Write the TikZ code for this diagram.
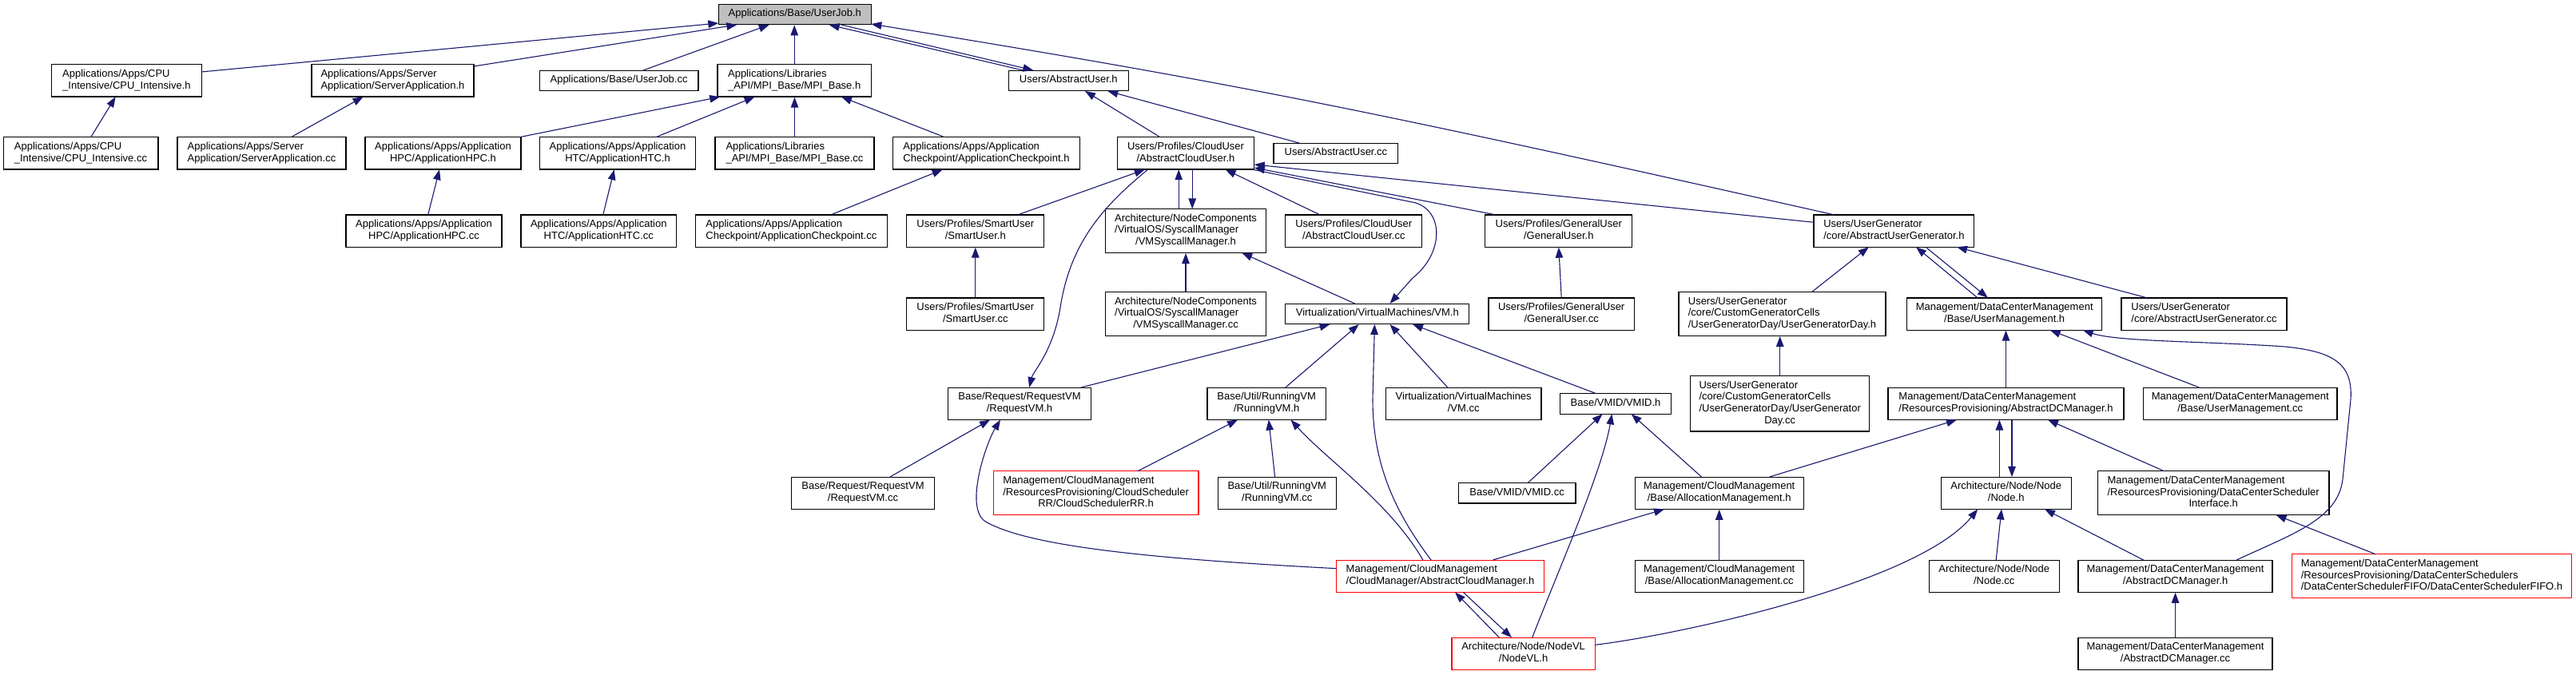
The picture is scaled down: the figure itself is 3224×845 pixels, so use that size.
\documentclass[tikz,border=0pt]{standalone}
\usepackage{fontspec}
\setmainfont{Liberation Sans}
\usetikzlibrary{arrows.meta,calc}
\definecolor{edgec}{RGB}{25,25,112}
\definecolor{rootgray}{RGB}{191,191,191}
\newcommand{\lb}[1]{\begin{tabular}{@{}l@{}}#1\end{tabular}}
\newcommand{\cl}[1]{\multicolumn{1}{@{}c@{}}{#1}}
\tikzset{
 nb/.style={draw=black, line width=1.2pt, fill=white, inner xsep=2pt, inner ysep=5.5pt, font=\fontsize{13}{14.6}\selectfont},
 redb/.style={nb, draw=red},
 dep/.style={draw=edgec, line width=1.1pt, -{Triangle[length=13pt,width=9.5pt]}},
}
\begin{document}
\begin{tikzpicture}[x=1pt,y=-1pt]
\fill[white] (0,0) rectangle (3224,845);
\path[use as bounding box] (0,0) rectangle (3224,845);
% rank 0
\node[nb, fill=rootgray, minimum width=191pt] (userjobh) at (994.8,18) {\lb{Applications/Base/UserJob.h}};
% rank 1
\node[nb, minimum width=187.5pt] (cpuh) at (158.4,101) {\lb{Applications/Apps/CPU\\\cl{\_Intensive/CPU\_Intensive.h}}};
\node[nb, minimum width=203pt] (serverh) at (491.5,101) {\lb{Applications/Apps/Server\\\cl{Application/ServerApplication.h}}};
\node[nb, minimum width=198.7pt] (userjobcc) at (774.6,101) {\lb{Applications/Base/UserJob.cc}};
\node[nb, minimum width=192.3pt] (mpih) at (994.2,101) {\lb{Applications/Libraries\\\cl{\_API/MPI\_Base/MPI\_Base.h}}};
\node[nb, minimum width=149.8pt] (abstractuserh) at (1337.3,101) {\lb{Users/AbstractUser.h}};
% rank 2
\node[nb, minimum width=193.8pt] (cpucc) at (101,192) {\lb{Applications/Apps/CPU\\\cl{\_Intensive/CPU\_Intensive.cc}}};
\node[nb, minimum width=211pt] (servercc) at (327.5,192) {\lb{Applications/Apps/Server\\\cl{Application/ServerApplication.cc}}};
\node[nb, minimum width=195pt] (hpch) at (554.5,192) {\lb{Applications/Apps/Application\\\cl{HPC/ApplicationHPC.h}}};
\node[nb, minimum width=194.6pt] (htch) at (773,192) {\lb{Applications/Apps/Application\\\cl{HTC/ApplicationHTC.h}}};
\node[nb, minimum width=199pt] (mpicc) at (994.5,192) {\lb{Applications/Libraries\\\cl{\_API/MPI\_Base/MPI\_Base.cc}}};
\node[nb, minimum width=233.5pt] (checkh) at (1234.5,192) {\lb{Applications/Apps/Application\\\cl{Checkpoint/ApplicationCheckpoint.h}}};
\node[nb, minimum width=171.5pt] (acuh) at (1484,192) {\lb{Users/Profiles/CloudUser\\\cl{/AbstractCloudUser.h}}};
\node[nb, minimum width=155.8pt] (abstractusercc) at (1671.9,192) {\lb{Users/AbstractUser.cc}};
% rank 3
\node[nb, minimum width=195pt] (hpccc) at (530.5,289) {\lb{Applications/Apps/Application\\\cl{HPC/ApplicationHPC.cc}}};
\node[nb, minimum width=194.5pt] (htccc) at (749.3,289) {\lb{Applications/Apps/Application\\\cl{HTC/ApplicationHTC.cc}}};
\node[nb, minimum width=240.2pt] (checkcc) at (990.4,289) {\lb{Applications/Apps/Application\\\cl{Checkpoint/ApplicationCheckpoint.cc}}};
\node[nb, minimum width=172pt] (smarth) at (1220.8,289) {\lb{Users/Profiles/SmartUser\\\cl{/SmartUser.h}}};
\node[nb, minimum width=201.4pt] (vmsysh) at (1484,289) {\lb{Architecture/NodeComponents\\/VirtualOS/SyscallManager\\\cl{/VMSyscallManager.h}}};
\node[nb, minimum width=171pt] (acucc) at (1694.3,289) {\lb{Users/Profiles/CloudUser\\\cl{/AbstractCloudUser.cc}}};
\node[nb, minimum width=184pt] (generalh) at (1950.8,289) {\lb{Users/Profiles/GeneralUser\\\cl{/GeneralUser.h}}};
\node[nb, minimum width=200.7pt] (augh) at (2370.4,289) {\lb{Users/UserGenerator\\\cl{/core/AbstractUserGenerator.h}}};
% rank 4
\node[nb, minimum width=172pt] (smartcc) at (1220.8,393) {\lb{Users/Profiles/SmartUser\\\cl{/SmartUser.cc}}};
\node[nb, minimum width=201.4pt] (vmsyscc) at (1484,393) {\lb{Architecture/NodeComponents\\/VirtualOS/SyscallManager\\\cl{/VMSyscallManager.cc}}};
\node[nb, minimum width=229.9pt] (vmh) at (1723.8,393) {\lb{Virtualization/VirtualMachines/VM.h}};
\node[nb, minimum width=182.3pt] (generalcc) at (1954.2,393) {\lb{Users/Profiles/GeneralUser\\\cl{/GeneralUser.cc}}};
\node[nb, minimum width=259pt] (ugdayh) at (2230.5,393) {\lb{Users/UserGenerator\\/core/CustomGeneratorCells\\\cl{/UserGeneratorDay/UserGeneratorDay.h}}};
\node[nb, minimum width=243.8pt] (umh) at (2508.7,393) {\lb{Management/DataCenterManagement\\\cl{/Base/UserManagement.h}}};
\node[nb, minimum width=207pt] (augcc) at (2758.5,393) {\lb{Users/UserGenerator\\\cl{/core/AbstractUserGenerator.cc}}};
% rank 5
\node[nb, minimum width=179.3pt] (reqvmh) at (1276,505.3) {\lb{Base/Request/RequestVM\\\cl{/RequestVM.h}}};
\node[nb, minimum width=148.5pt] (runvmh) at (1585.2,505.3) {\lb{Base/Util/RunningVM\\\cl{/RunningVM.h}}};
\node[nb, minimum width=194.7pt] (vmcc) at (1831.7,505.3) {\lb{Virtualization/VirtualMachines\\\cl{/VM.cc}}};
\node[nb, minimum width=138.5pt] (vmidh) at (2022,505.3) {\lb{Base/VMID/VMID.h}};
\node[nb, minimum width=224.2pt] (ugdaycc) at (2227.7,505.3) {\lb{Users/UserGenerator\\/core/CustomGeneratorCells\\/UserGeneratorDay/UserGenerator\\\cl{Day.cc}}};
\node[nb, minimum width=295pt] (adcmrph) at (2510.5,505.3) {\lb{Management/DataCenterManagement\\\cl{/ResourcesProvisioning/AbstractDCManager.h}}};
\node[nb, minimum width=242.4pt] (umcc) at (2803.7,505.3) {\lb{Management/DataCenterManagement\\\cl{/Base/UserManagement.cc}}};
% rank 6
\node[nb, minimum width=178.8pt] (reqvmcc) at (1080,617.2) {\lb{Base/Request/RequestVM\\\cl{/RequestVM.cc}}};
\node[redb, minimum width=256.8pt] (cloudrr) at (1371.6,617.2) {\lb{Management/CloudManagement\\/ResourcesProvisioning/CloudScheduler\\\cl{RR/CloudSchedulerRR.h}}};
\node[nb, minimum width=148pt] (runvmcc) at (1598.3,617.2) {\lb{Base/Util/RunningVM\\\cl{/RunningVM.cc}}};
\node[nb, minimum width=146.8pt] (vmidcc) at (1898.6,617.2) {\lb{Base/VMID/VMID.cc}};
\node[nb, minimum width=210.8pt] (allocmh) at (2151.7,617.2) {\lb{Management/CloudManagement\\\cl{/Base/AllocationManagement.h}}};
\node[nb, minimum width=163pt] (nodeh) at (2510.7,617.2) {\lb{Architecture/Node/Node\\\cl{/Node.h}}};
\node[nb, minimum width=289.6pt] (dcsif) at (2770.2,617.2) {\lb{Management/DataCenterManagement\\/ResourcesProvisioning/DataCenterScheduler\\\cl{Interface.h}}};
% rank 7
\node[redb, minimum width=259.4pt] (acmh) at (1802.5,721.2) {\lb{Management/CloudManagement\\\cl{/CloudManager/AbstractCloudManager.h}}};
\node[nb, minimum width=210.8pt] (allocmcc) at (2151.7,721.2) {\lb{Management/CloudManagement\\\cl{/Base/AllocationManagement.cc}}};
\node[nb, minimum width=162.9pt] (nodecc) at (2495.7,721.2) {\lb{Architecture/Node/Node\\\cl{/Node.cc}}};
\node[nb, minimum width=242.9pt] (adcmh) at (2722.5,721.2) {\lb{Management/DataCenterManagement\\\cl{/AbstractDCManager.h}}};
\node[redb, minimum width=350.3pt] (fifo) at (3043.5,721.2) {\lb{Management/DataCenterManagement\\/ResourcesProvisioning/DataCenterSchedulers\\\cl{/DataCenterSchedulerFIFO/DataCenterSchedulerFIFO.h}}};
% rank 8
\node[redb, minimum width=179.2pt] (nodevlh) at (1906.6,818.3) {\lb{Architecture/Node/NodeVL\\\cl{/NodeVL.h}}};
\node[nb, minimum width=242.9pt] (adcmcc) at (2722.5,818.3) {\lb{Management/DataCenterManagement\\\cl{/AbstractDCManager.cc}}};

% edges
\draw[dep] ($(cpuh)+(93.7,-11)$) -- ($(userjobh)+(-95.5,11)$);
\draw[dep] ($(serverh)+(101.5,-18)$) -- ($(userjobh)+(-72.5,13)$);
\draw[dep] ($(userjobcc)+(30.4,-13)$) -- ($(userjobh)+(-32,13)$);
\draw[dep] (mpih.north) -- (mpih.north |- userjobh.south);
\draw[dep] ($(abstractuserh)+(-57,-13)$) -- ($(userjobh)+(42.8,13)$);
\draw[dep] ($(userjobh)+(58,13)$) -- ($(abstractuserh)+(-44,-13)$);
\draw[dep] ($(augh)+(-75.6,-20.25)$) .. controls (1700,135) and (1550,105) .. ($(userjobh)+(95.5,12)$);
\draw[dep] ($(hpch)+(95.5,-20.25)$) -- ($(mpih)+(-93,20.25)$);
\draw[dep] ($(htch)+(47.7,-20.25)$) -- ($(mpih)+(-49.6,20.25)$);
\draw[dep] (mpicc.north) -- (mpicc.north |- mpih.south);
\draw[dep] ($(checkh)+(-52.2,-20.25)$) -- ($(mpih)+(58.8,20.25)$);
\draw[dep] ($(cpucc)+(12.7,-20.25)$) -- ($(cpuh)+(-13.8,20.25)$);
\draw[dep] ($(servercc)+(36.7,-20.25)$) -- ($(serverh)+(-36.9,20.25)$);
\draw[dep] ($(hpccc)+(5.2,-20.25)$) -- ($(hpch)+(-4.5,20.25)$);
\draw[dep] ($(htccc)+(5.5,-20.25)$) -- ($(htch)+(-4.3,20.25)$);
\draw[dep] ($(checkcc)+(49.8,-20.25)$) -- ($(checkh)+(-54.8,20.25)$);
\draw[dep] ($(acuh)+(-32,-20.25)$) -- ($(abstractuserh)+(20.7,13)$);
\draw[dep] ($(abstractusercc)+(-46,-13)$) -- ($(abstractuserh)+(49,13)$);
\draw[dep] ($(smarth)+(53.4,-20.25)$) -- ($(acuh)+(-51.2,20.25)$);
\draw[dep] ($(acuh)+(-47.5,20.25)$) .. controls (1385,255) and (1340,300) .. (1327,385) .. controls (1318,440) and (1293,465) .. ($(reqvmh)+(12.2,-20.25)$);
\draw[dep] ($(vmsysh)+(-8.8,-27.5)$) -- ($(acuh)+(-8.8,20.25)$);
\draw[dep] ($(acuh)+(8.2,20.25)$) -- ($(vmsysh)+(8.2,-27.5)$);
\draw[dep] ($(acucc)+(-42.6,-20.25)$) -- ($(acuh)+(49.6,20.25)$);
\draw[dep] ($(acuh)+(84,20.25)$) -- (1772,254) .. controls (1808,266) and (1806,318) .. (1768,348) -- ($(vmh)+(15.7,-13)$);
\draw[dep] ($(generalh)+(-79.6,-20.25)$) -- ($(acuh)+(85.75,18)$);
\draw[dep] ($(augh)+(-100.35,-10.7)$) -- ($(acuh)+(85.75,14)$);
\draw[dep] (smartcc.north) -- (smarth.south);
\draw[dep] (vmsyscc.north) -- (vmsysh.south);
\draw[dep] ($(vmh)+(-28.2,-13)$) -- ($(vmsysh)+(70.2,27.5)$);
\draw[dep] (generalcc.north) -- (generalh.south);
\draw[dep] ($(umh)+(-33.8,-20.25)$) -- ($(augh)+(27.6,20.25)$);
\draw[dep] ($(augh)+(39.6,20.25)$) -- ($(umh)+(-20.8,-20.25)$);
\draw[dep] ($(ugdayh)+(37.1,-27.5)$) -- ($(augh)+(-31.6,20.25)$);
\draw[dep] ($(augcc)+(-71.9,-20.25)$) -- ($(augh)+(78.6,20.25)$);
\draw[dep] ($(reqvmh)+(76.8,-20.25)$) -- ($(vmh)+(-59.2,13)$);
\draw[dep] ($(runvmh)+(23.6,-20.25)$) -- ($(vmh)+(-23.1,13)$);
\draw[dep] ($(acmh)+(-11.5,-20.25)$) .. controls (1745,640) and (1718,580) .. (1718,500) -- ($(vmh)+(-3.4,13)$);
\draw[dep] ($(vmcc)+(-19.9,-20.25)$) -- ($(vmh)+(15.7,13)$);
\draw[dep] ($(vmidh)+(-25.3,-13)$) -- ($(vmh)+(44.1,13)$);
\draw[dep] (ugdaycc.north) -- (ugdaycc.north |- ugdayh.south);
\draw[dep] (adcmrph.north) -- (adcmrph.north |- umh.south);
\draw[dep] ($(umcc)+(-51.2,-20.25)$) -- ($(umh)+(57,20.25)$);
\draw[dep] ($(adcmh)+(76.8,-20.25)$) .. controls (2870,668) and (2926,650) .. (2932,600) -- (2942,500) .. controls (2945,455) and (2920,440) .. (2860,434) .. controls (2760,427) and (2650,428) .. ($(umh)+(98,20.25)$);
\draw[dep] ($(allocmh)+(63,-20.25)$) -- ($(adcmrph)+(-61.5,20.25)$);
\draw[dep] ($(nodeh)+(-8.3,-20.25)$) -- ($(adcmrph)+(-8.1,20.25)$);
\draw[dep] ($(adcmrph)+(7.5,20.25)$) -- ($(nodeh)+(7.3,-20.25)$);
\draw[dep] ($(dcsif)+(-61.8,-27.5)$) -- ($(adcmrph)+(52.5,20.25)$);
\draw[dep] ($(allocmh)+(-22.2,-20.25)$) -- ($(vmidh)+(19.7,13)$);
\draw[dep] ($(acmh)+(66.1,-20.25)$) -- ($(allocmh)+(-68.7,20.25)$);
\draw[dep] (allocmcc.north) -- (allocmh.south);
\draw[dep] ($(vmidcc)+(13.9,-13)$) -- ($(vmidh)+(-16.5,13)$);
\draw[dep] ($(nodevlh)+(11.1,-20.25)$) .. controls (1950,715) and (2005,590) .. ($(vmidh)+(-4.6,13)$);
\draw[dep] ($(nodevlh)+(-30.2,-20.25)$) -- ($(acmh)+(18.6,20.25)$);
\draw[dep] ($(acmh)+(28.9,20.25)$) -- ($(nodevlh)+(-14.7,-20.25)$);
\draw[dep] ($(nodevlh)+(89.6,-11)$) .. controls (2100,795) and (2400,730) .. ($(nodeh)+(-35.5,20.25)$);
\draw[dep] ($(nodecc)+(2.5,-20.25)$) -- ($(nodeh)+(-5.7,20.25)$);
\draw[dep] ($(adcmh)+(-40,-20.25)$) -- ($(nodeh)+(48.3,20.25)$);
\draw[dep] ($(fifo)+(-70.5,-27.5)$) -- ($(dcsif)+(78.3,27.5)$);
\draw[dep] (adcmcc.north) -- (adcmh.south);
\draw[dep] ($(reqvmcc)+(34,-20.25)$) -- ($(reqvmh)+(-37,20.25)$);
\draw[dep] ($(acmh)+(-129.7,-9.5)$) .. controls (1450,700) and (1290,685) .. (1234,653.3) .. controls (1206,637) and (1234,555) .. ($(reqvmh)+(-24,20.25)$);
\draw[dep] ($(cloudrr)+(52.4,-27.5)$) -- ($(runvmh)+(-36.2,20.25)$);
\draw[dep] ($(runvmcc)+(-2.7,-20.25)$) -- ($(runvmh)+(2.6,20.25)$);
\draw[dep] ($(acmh)+(-21.7,-20.25)$) .. controls (1740,630) and (1660,575) .. ($(runvmh)+(30.3,20.25)$);
\end{tikzpicture}
\end{document}
